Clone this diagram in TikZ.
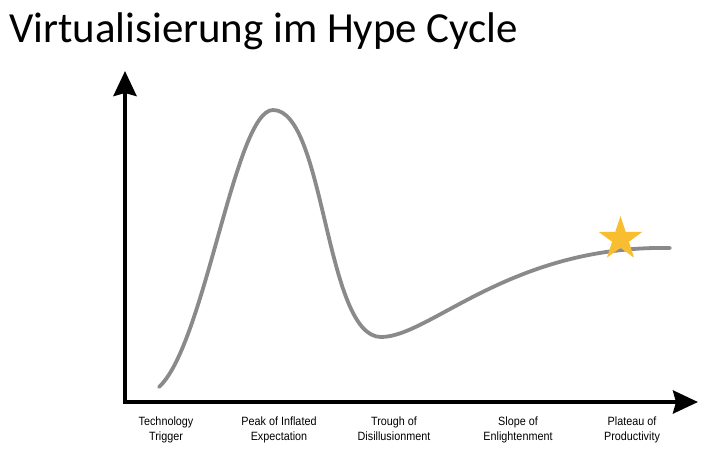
\documentclass[tikz,border=0pt]{standalone}
\usepackage{fontspec}
\setmainfont{Carlito}
\newfontfamily\labelfont[FakeStretch=0.9]{Liberation Sans}
\usetikzlibrary{arrows.meta,shapes.geometric}
\definecolor{curvegray}{HTML}{8A8A8A}
\definecolor{stargold}{HTML}{F9BD30}
\begin{document}
\begin{tikzpicture}[x=1pt,y=-1pt,
  axis/.style={line width=4pt,-{Stealth[length=25pt,width=23pt,inset=3pt]}},
  hype/.style={line width=3.8pt,curvegray,line cap=round},
  phase/.style={font=\labelfont\fontsize{12}{15}\selectfont,align=center,anchor=north,inner sep=0pt},
  title/.style={font=\fontsize{42.9}{48}\selectfont,anchor=base west,inner sep=0pt}]
\useasboundingbox (0,0) rectangle (704,450);
\node[title] (title) at (9,42) {Virtualisierung im Hype Cycle};
\coordinate (O) at (125,402);
\coordinate (ytop) at (125,71);
\coordinate (xend) at (698,402);
\draw[axis] (O) -- (ytop);
\draw[axis] ([xshift=-2pt]O) -- (xend);
\coordinate (s) at (159,387);
\coordinate (peak) at (273,110);
\coordinate (trough) at (381,337);
\coordinate (plat) at (670,248);
\draw[hype] (s) .. controls (205,345) and (235,110) .. (peak)
  .. controls (325,110) and (325,337) .. (trough)
  .. controls (430,337) and (510,245) .. (plat);
\node[star,star points=5,star point ratio=2.6,fill=stargold,minimum size=46pt,inner sep=0pt] (st) at (620.5,239) {};
\node[phase] (p1) at (166,416.5) {Technology\\Trigger};
\node[phase] (p2) at (279,416.5) {Peak of Inflated\\Expectation};
\node[phase] (p3) at (394,416.5) {Trough of\\Disillusionment};
\node[phase] (p4) at (518,416.5) {Slope of\\Enlightenment};
\node[phase] (p5) at (632,416.5) {Plateau of\\Productivity};
\end{tikzpicture}
\end{document}
